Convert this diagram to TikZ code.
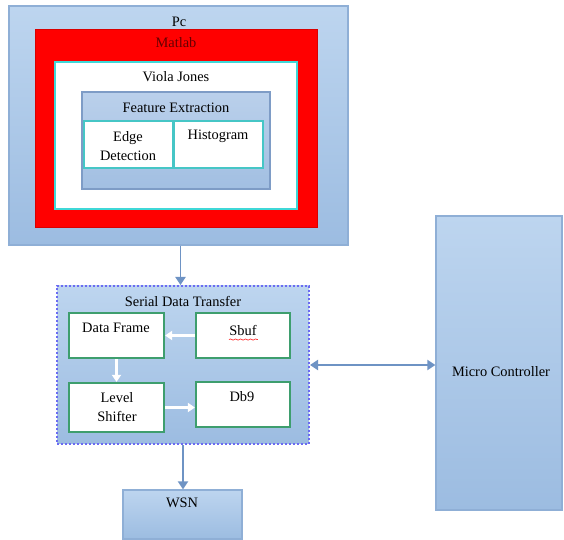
\documentclass[tikz,border=0pt]{standalone}
\usepackage{fontspec}
\setmainfont{Liberation Serif}
\usetikzlibrary{arrows.meta, positioning, fit, decorations.pathmorphing}

\definecolor{boxtop}{HTML}{BDD5EF}
\definecolor{boxbot}{HTML}{9CBCE1}
\definecolor{boxline}{HTML}{8FAFD6}
\definecolor{arrline}{HTML}{6E93C4}
\definecolor{cyanline}{HTML}{3FD8D8}
\definecolor{tealline}{HTML}{46C6C6}
\definecolor{greenline}{HTML}{3E9E6E}
\definecolor{dotline}{HTML}{6B6BF2}
\definecolor{fetop}{HTML}{BAD0EB}
\definecolor{febot}{HTML}{A2BFE2}
\definecolor{feline}{HTML}{7E9CC6}

\begin{document}
\begin{tikzpicture}[
    x=0.5pt, y=-0.5pt,
    area/.style={draw=boxline, line width=0.6pt, top color=boxtop, bottom color=boxbot, inner sep=0pt},
    redbox/.style={fill=red, draw=red!85!black, line width=0.4pt, inner sep=0pt},
    whitebox/.style={fill=white, draw=cyanline, line width=1pt, inner sep=0pt},
    febox/.style={draw=feline, line width=0.7pt, top color=fetop, bottom color=febot, inner sep=0pt},
    subbox/.style={fill=white, draw=tealline, line width=1.1pt, inner sep=0pt},
    serialbox/.style={draw=dotline, densely dotted, line width=1pt, top color=boxtop, bottom color=boxbot, inner sep=0pt},
    stepbox/.style={fill=white, draw=greenline, line width=1.1pt, inner sep=0pt},
    lbl/.style={font=\fontsize{7.2}{9.5}\selectfont, align=center, inner sep=0pt, text=black},
    flow/.style={-{Triangle[length=4pt, width=5pt]}, arrline, line width=0.9pt},
    dflow/.style={{Triangle[length=4pt, width=5pt]}-{Triangle[length=4pt, width=5pt]}, arrline, line width=0.9pt},
    inflow/.style={-{Triangle[length=3.5pt, width=4.5pt]}, white, line width=1.2pt}
]
    \useasboundingbox (0,0) rectangle (564,540);

    % PC side
    \node[area, fit={(9,6) (348,245)}] (pc) {};
    \node[redbox, fit={(35,29) (317,227)}] (matlab) {};
    \node[whitebox, fit={(55,62) (297,209)}] (viola) {};
    \node[febox, fit={(82,92) (270,189)}] (feat) {};
    \node[subbox, fit={(84,121) (173,168)}] (edge) {};
    \node[subbox, fit={(174,121) (263,168)}] (histo) {};

    \node[lbl] (pcT) at (179,22) {Pc};
    \node[lbl, text=red!40!black] (matlabT) at (176,43) {Matlab};
    \node[lbl] (violaT) at (176,77) {Viola Jones};
    \node[lbl] (featT) at (176,108) {Feature Extraction};
    \node[lbl] (edgeT) at (128,146) {Edge\\Detection};
    \node[lbl] (histoT) at (218,136) {Histogram};

    % Serial data transfer
    \node[serialbox, fit={(57,286) (309,444)}] (sdt) {};
    \node[stepbox, fit={(69,313) (164,358)}] (frame) {};
    \node[stepbox, fit={(196,313) (290,358)}] (sbuf) {};
    \node[stepbox, fit={(69,383) (164,432)}] (shifter) {};
    \node[stepbox, fit={(196,382) (290,427)}] (db) {};

    \node[lbl] (sdtT) at (183,302) {Serial Data Transfer};
    \node[lbl] (frameT) at (116,328) {Data Frame};
    \node[lbl] (sbufT) at (243,331) {Sbuf};
    \node[lbl] (shifterT) at (117,407) {Level\\Shifter};
    \node[lbl] (dbT) at (242,397) {Db9};
    \draw[red!80, line width=0.35pt, decorate, decoration={snake, amplitude=0.3pt, segment length=2.5pt}]
        (sbufT.south west) ++(0,3) -- ++(29,0);

    % Outside blocks
    \node[area, fit={(123,490) (242,539)}] (wsn) {};
    \node[lbl] (wsnT) at (182,503) {WSN};
    \node[area, fit={(436,216) (562,510)}] (mc) {};
    \node[lbl] (mcT) at (501,372) {Micro Controller};

    % Arrows
    \draw[flow] ([xshift=1pt]pc.south) -- ([xshift=1pt]pc.south |- sdt.north);
    \draw[flow] (sdt.south) -- (sdt.south |- wsn.north);
    \draw[dflow] (sdt.east) -- (sdt.east -| mc.west);
    \draw[inflow] (sbuf.west) -- (frame.east);
    \draw[inflow] (frame.south) -- (shifter.north);
    \draw[inflow] (shifter.east) -- (shifter.east -| db.west);
\end{tikzpicture}
\end{document}
